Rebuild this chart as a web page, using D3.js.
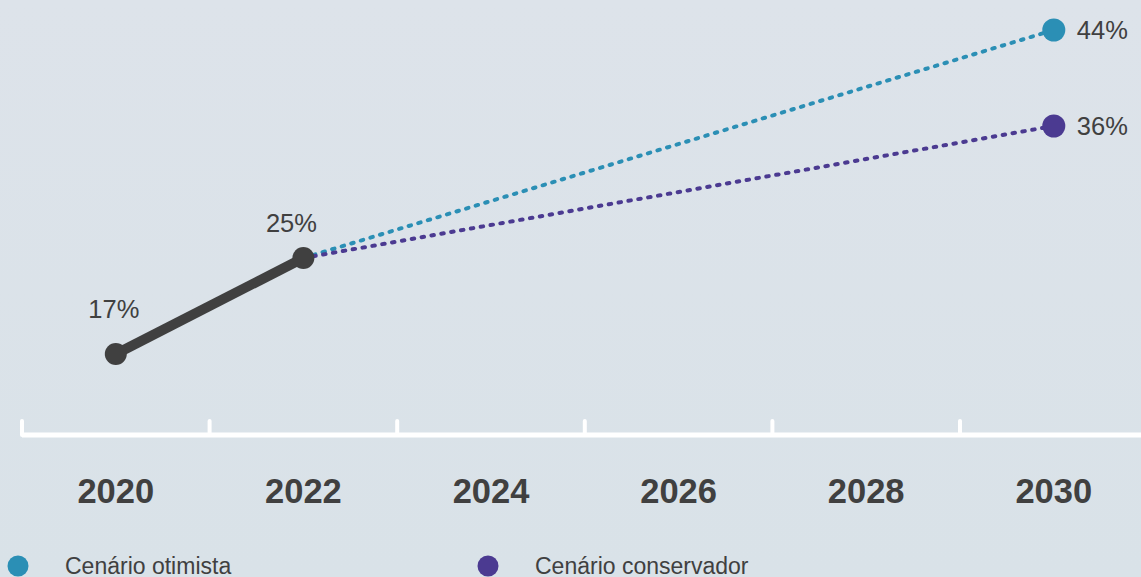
<!DOCTYPE html>
<html>
<head>
<meta charset="utf-8">
<script src="https://cdn.jsdelivr.net/npm/d3@7"></script>
<style>
  html, body { margin: 0; padding: 0; }
  body { width: 1141px; height: 577px; overflow: hidden; }
  text { font-family: "Liberation Sans", Arial, sans-serif; }
</style>
</head>
<body>
<svg width="1141" height="577"></svg>
<script>
const svg = d3.select('svg');
const width = +svg.attr('width');
const height = +svg.attr('height');

// data
const yearLabels = ['2020', '2022', '2024', '2026', '2028', '2030'];
const actualYears = [2020, 2022];
const actualValues = [17, 25];
const scenarioNames = ['Cenário otimista', 'Cenário conservador'];
const scenarioColors = ['#2b8fb5', '#4b3a91'];
const scenarioStart = [2022, 25];
const scenarioEnd = [2030, 2030];
const scenarioValues = [44, 36];

const textColor = '#404040';
// label nudges for the two actual points (dx, dy)
const actualLabelShift = [[-2, -36], [-12, -26]];

// background
const defs = svg.append('defs');
const grad = defs.append('linearGradient').attr('id', 'bg')
    .attr('x1', 0).attr('y1', 0).attr('x2', 0).attr('y2', 1);
grad.append('stop').attr('offset', '0%').attr('stop-color', '#dde3ea');
grad.append('stop').attr('offset', '100%').attr('stop-color', '#d9e2e8');
svg.append('rect').attr('width', width).attr('height', height).attr('fill', 'url(#bg)');

// scales
const band = d3.scaleBand()
    .domain(yearLabels)
    .range([22, 22 + 6 * 187.6]);

const x = d3.scaleLinear()
    .domain([2020, 2030])
    .range([band('2020') + band.bandwidth() / 2, band('2030') + band.bandwidth() / 2]);

const y = d3.scaleLinear()
    .domain([17, 44])
    .range([354, 30]);

// axis
const axisY = 435;
const axis = svg.append('g');
axis.append('line')
    .attr('x1', 22).attr('x2', width)
    .attr('y1', axisY).attr('y2', axisY)
    .attr('stroke', '#fff').attr('stroke-width', 5);
axis.selectAll('.tick').data(yearLabels).enter().append('line')
    .attr('class', 'tick')
    .attr('x1', d => band(d)).attr('x2', d => band(d))
    .attr('y1', 421).attr('y2', axisY)
    .attr('stroke', '#fff').attr('stroke-width', 4)
    .attr('stroke-linecap', 'round');
axis.selectAll('.lbl').data(yearLabels).enter().append('text')
    .attr('class', 'lbl')
    .attr('x', d => band(d) + band.bandwidth() / 2)
    .attr('y', 503)
    .attr('text-anchor', 'middle')
    .attr('font-size', 34.5)
    .attr('font-weight', 'bold')
    .attr('fill', textColor)
    .text(d => d);

// scenario dotted lines
const scen = scenarioNames.map((name, i) => ({
    name, color: scenarioColors[i], end: scenarioEnd[i], value: scenarioValues[i]
}));
svg.selectAll('.scen').data(scen).enter().append('line')
    .attr('class', 'scen')
    .attr('x1', x(scenarioStart[0])).attr('y1', y(scenarioStart[1]))
    .attr('x2', d => x(d.end)).attr('y2', d => y(d.value))
    .attr('stroke', d => d.color)
    .attr('stroke-width', 4)
    .attr('stroke-linecap', 'round')
    .attr('stroke-dasharray', '2.5,7.5');

svg.selectAll('.scenDot').data(scen).enter().append('circle')
    .attr('class', 'scenDot')
    .attr('cx', d => x(d.end)).attr('cy', d => y(d.value))
    .attr('r', 11.5)
    .attr('fill', d => d.color);

svg.selectAll('.scenLbl').data(scen).enter().append('text')
    .attr('class', 'scenLbl')
    .attr('x', d => x(d.end) + 23).attr('y', d => y(d.value) + 9)
    .attr('font-size', 25.5)
    .attr('fill', textColor)
    .text(d => d.value + '%');

// actual line
const actual = actualYears.map((yr, i) => ({ yr, v: actualValues[i], shift: actualLabelShift[i] }));
svg.append('path').datum(actual)
    .attr('d', d3.line().x(d => x(d.yr)).y(d => y(d.v)))
    .attr('fill', 'none')
    .attr('stroke', '#404040')
    .attr('stroke-width', 10);
svg.selectAll('.actDot').data(actual).enter().append('circle')
    .attr('class', 'actDot')
    .attr('cx', d => x(d.yr)).attr('cy', d => y(d.v))
    .attr('r', 11)
    .attr('fill', '#404040');
svg.selectAll('.actLbl').data(actual).enter().append('text')
    .attr('class', 'actLbl')
    .attr('x', d => x(d.yr) + d.shift[0]).attr('y', d => y(d.v) + d.shift[1])
    .attr('text-anchor', 'middle')
    .attr('font-size', 25.5)
    .attr('fill', textColor)
    .text(d => d.v + '%');

// legend
const legend = svg.selectAll('.leg').data(scen).enter().append('g')
    .attr('class', 'leg')
    .attr('transform', (d, i) => `translate(${18 + i * 470},566)`);
legend.append('circle').attr('r', 10.5).attr('fill', d => d.color);
legend.append('text')
    .attr('x', 47).attr('y', 8)
    .attr('font-size', 23)
    .attr('fill', textColor)
    .text(d => d.name);
</script>
</body>
</html>
